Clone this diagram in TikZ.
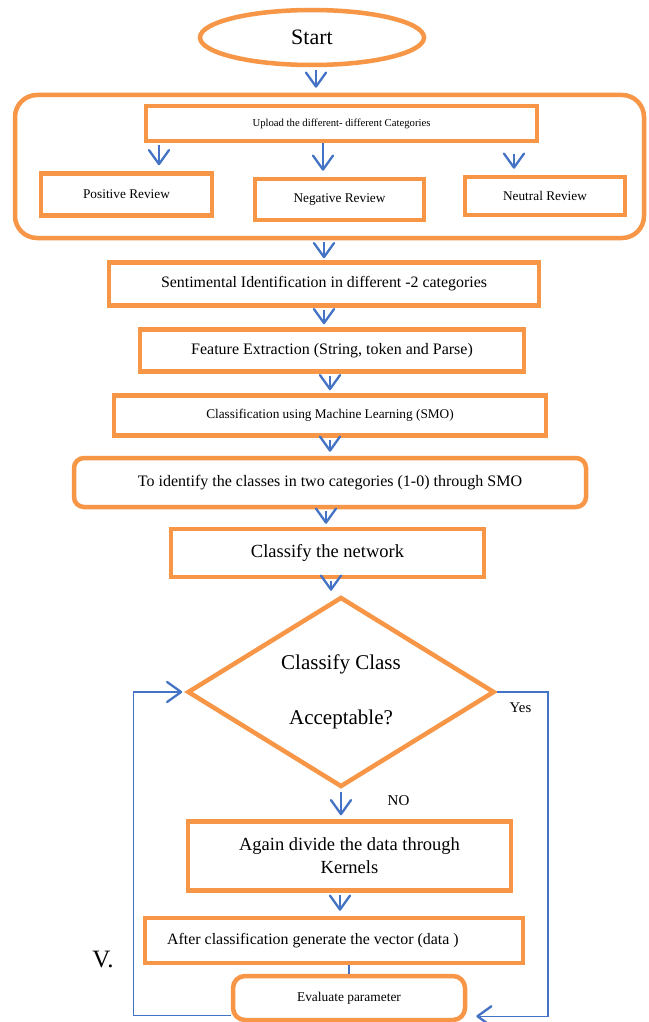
\documentclass[tikz,border=0pt]{standalone}
\usepackage{fontspec}
\setmainfont{Liberation Serif}
\usetikzlibrary{arrows.meta,shapes.geometric,calc}
\definecolor{ocol}{HTML}{F79646}
\definecolor{bcol}{HTML}{4472C4}
\newcommand{\myfs}[2]{\fontsize{#1}{#2}\selectfont}
\pgfdeclarearrow{
  name = MyVee,
  parameters = {\the\pgfarrowlength,\the\pgfarrowwidth,\the\pgfarrowlinewidth},
  setup code = {
    \pgfarrowssettipend{.5\pgfarrowlinewidth}
    \pgfarrowssetlineend{-.5\pgfarrowlinewidth}
    \pgfarrowssetvisualbackend{-\pgfarrowlength}
    \pgfarrowssetbackend{-\pgfarrowlength}
    \pgfarrowshullpoint{0pt}{0pt}
    \pgfarrowsupperhullpoint{-\pgfarrowlength}{.5\pgfarrowwidth}
    \pgfarrowssavethe\pgfarrowlength
    \pgfarrowssavethe\pgfarrowwidth
    \pgfarrowssavethe\pgfarrowlinewidth
  },
  drawing code = {
    \pgfsetdash{}{0pt}
    \pgfsetlinewidth{\pgfarrowlinewidth}
    \pgfsetroundjoin
    \pgfsetroundcap
    \pgfpathmoveto{\pgfqpoint{-\pgfarrowlength}{.5\pgfarrowwidth}}
    \pgfpathlineto{\pgfpointorigin}
    \pgfpathlineto{\pgfqpoint{-\pgfarrowlength}{-.5\pgfarrowwidth}}
    \pgfusepathqstroke
  },
  defaults = {length=14pt, width=20pt, line width=2pt}
}
\begin{document}
\begin{tikzpicture}[x=1pt,y=-1pt,
  box/.style={draw=ocol, line width=4.5pt, rectangle, inner sep=0pt, align=center},
  rbox/.style={box, rounded corners=#1},
  arr/.style={draw=bcol, line width=2pt, -{MyVee[length=14pt, width=20pt, line width=2.3pt]}},
  bline/.style={draw=bcol, line width=1.5pt},
  lbl/.style={inner sep=0pt, align=center}
]
\useasboundingbox (0,0) rectangle (648,1022);
\fill[white] (0,0) rectangle (648,1022);

% nodes
\node[box, ellipse, minimum width=224pt, minimum height=55pt, font=\myfs{22}{26}] (start) at (312,37.5) {Start};
\node[rbox=22pt, minimum width=629pt, minimum height=143pt] (outer) at (329.5,166.5) {};
\node[box, minimum width=391pt, minimum height=35pt, font=\myfs{10.7}{13}] (upload) at (341.5,123.5) {Upload the different- different Categories};
\node[box, minimum width=171pt, minimum height=42pt, font=\myfs{13.3}{16}] (pos) at (126.5,194.5) {Positive Review};
\node[box, minimum width=169pt, minimum height=41pt, font=\myfs{13.3}{16}] (neg) at (339.5,199.5) {Negative Review};
\node[box, minimum width=160pt, minimum height=38pt, font=\myfs{13.3}{16}] (neu) at (545,196) {Neutral Review};
\node[box, minimum width=430pt, minimum height=43pt, font=\myfs{15.9}{19}] (sent) at (324,284) {Sentimental Identification in different -2 categories};
\node[box, minimum width=384pt, minimum height=42pt, font=\myfs{16}{19}] (feat) at (332,350.5) {Feature Extraction (String, token and Parse)};
\node[box, minimum width=432pt, minimum height=40pt, font=\myfs{13.3}{16}] (cml) at (330,415.5) {Classification using Machine Learning (SMO)};
\node[rbox=10pt, minimum width=512pt, minimum height=49pt, font=\myfs{16}{19}] (ident) at (330,482.5) {To identify the classes in two categories (1-0) through SMO};
\node[box, minimum width=313pt, minimum height=48pt, font=\myfs{18.5}{22}] (net) at (327.5,553) {Classify the network};
\node[box, diamond, shape aspect=1.6, minimum width=307pt, minimum height=190pt, font=\myfs{21}{55}] (dec) at (341,692) {Classify Class\\Acceptable?};
\node[box, minimum width=323pt, minimum height=69pt, font=\myfs{18.5}{23}] (again) at (349.5,856) {Again divide the data through\\Kernels};
\node[box, minimum width=378pt, minimum height=45pt] (after) at (334,940.5) {};
\node[lbl, anchor=west, font=\myfs{15.9}{19}] (aftert) at (167,940.5) {After classification generate the vector (data )};
\node[rbox=12pt, minimum width=232pt, minimum height=44pt, font=\myfs{13.4}{16}] (eval) at (349,998) {Evaluate parameter};

\node[lbl, font=\myfs{14.8}{17}] (yes) at (520.5,708) {Yes};
\node[lbl, font=\myfs{15}{17}] (no) at (398.5,801) {NO};
\node[lbl, font=\myfs{25}{28}] (v) at (103,959) {V.};

% connectors
\draw[arr] ($(start.south)+(4,3)$) -- ($(outer.north)+(-13.5,-5)$);
\draw[arr] ($(upload.south)+(-182.5,2)$) -- ($(pos.north)+(32.5,-6)$);
\draw[arr] ($(upload.south)+(-18.5,0)$) -- ($(neg.north)+(-16.5,-6)$);
\draw[arr] ($(upload.south)+(172.5,11)$) -- ($(neu.north)+(-31,-6)$);
\draw[arr] ($(outer.south)+(-5.5,2)$) -- ($(sent.north)+(0,-2)$);
\draw[arr] ($(sent.south)+(0,2)$) -- ($(feat.north)+(-8,-3)$);
\draw[arr] ($(feat.south)+(-2,2)$) -- ($(cml.north)+(0,-3)$);
\draw[arr] ($(cml.south)+(0,2)$) -- ($(ident.north)+(0,-4)$);
\draw[arr] ($(ident.south)+(-4,2)$) -- ($(net.north)+(-1.5,-3)$);
\draw[arr] ($(net.south)+(3.5,2)$) -- ($(dec.north)+(-10,-4)$);
\draw[arr] ($(dec.south)+(0,3)$) -- ($(again.north)+(-8.5,-4)$);
\draw[arr] ($(again.south)+(-9.5,2)$) -- ($(after.north)+(6,-5)$);
\draw[bline] (after.south -| eval.north) -- (eval.north);

\coordinate (lc) at ($(dec.west)+(-52,0)$);
\coordinate (rc) at ($(dec.east)+(51,0)$);
\draw[arr, line width=1.5pt] ($(eval.south west)+(0,-7)$) -| (lc) -- ($(dec.west)+(-3,0)$);
\draw[arr, line width=1.5pt] (dec.east) -- (rc) |- ($(eval.south east)+(9,-6)$);
\end{tikzpicture}
\end{document}
